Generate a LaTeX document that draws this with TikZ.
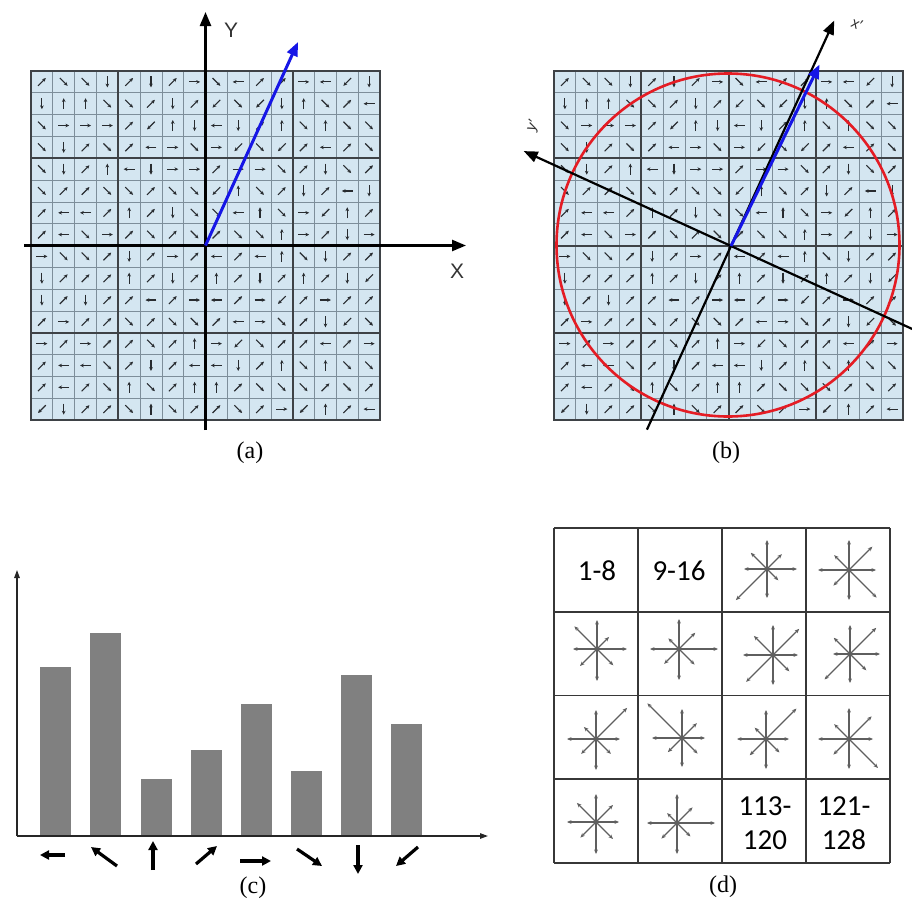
\documentclass[tikz,border=0pt]{standalone}
\usepackage{fontspec}
\setmainfont{Liberation Serif}
\newfontfamily\sansf{Liberation Sans}
\newfontfamily\calib{Carlito}
\usetikzlibrary{arrows.meta}
\definecolor{gridbg}{RGB}{212,230,241}
\definecolor{thinln}{RGB}{125,142,154}
\definecolor{thickln}{RGB}{62,66,70}
\definecolor{arrowc}{RGB}{40,44,48}
\definecolor{bluea}{RGB}{22,22,230}
\definecolor{redc}{RGB}{228,28,36}
\definecolor{barc}{RGB}{128,128,128}
\definecolor{tabln}{RGB}{55,55,55}
\definecolor{armc}{RGB}{95,95,95}

\def\arrowrows{%
{45,-45,-45,270,45,270,45,0,-45,180,45,45,0,180,225,270},%
{270,90,90,-45,-45,45,270,45,225,-45,225,270,90,-45,45,180},%
{-45,0,0,0,45,225,90,270,180,270,45,90,-45,90,-45,-45},%
{-45,270,45,-45,45,180,0,-45,0,225,-45,225,45,180,45,-45},%
{-45,270,45,90,180,270,0,0,45,0,0,-45,45,270,-45,45},%
{-45,45,45,-45,-45,45,-45,-45,225,90,-45,45,270,45,180,270},%
{45,180,180,45,90,45,270,-45,-45,180,90,-45,0,225,90,45},%
{45,180,-45,0,45,-45,45,-45,45,-45,-45,90,0,45,270,0},%
{0,-45,-45,45,270,45,0,45,180,45,180,90,-45,270,45,45},%
{270,45,45,45,90,45,270,45,90,45,270,45,90,45,270,225},%
{270,45,270,45,45,180,45,0,180,45,0,225,45,0,45,45},%
{45,0,45,45,-45,45,-45,-45,45,180,0,-45,45,270,225,-45},%
{0,45,0,45,45,-45,45,90,0,225,-45,45,45,180,45,0},%
{45,180,180,-45,45,270,45,180,180,270,45,90,-45,90,-45,-45},%
{45,180,45,-45,90,-45,45,90,90,45,-45,-45,-45,45,-45,45},%
{225,270,45,45,-45,90,-45,45,45,-45,45,0,225,90,45,180}}

\tikzset{
  garrow/.style={draw=arrowc, line width=1.1pt, -{Stealth[length=3.8pt,width=3.6pt]}},
  thinrule/.style={draw=thinln, line width=0.7pt},
  thickrule/.style={draw=thickln, line width=2pt},
  axisline/.style={draw=black, line width=2.4pt, -{Triangle[length=14pt,width=11pt]}},
  bluevec/.style={draw=bluea, line width=3pt, -{Triangle[length=14pt,width=11pt]}},
  axlabel/.style={font=\sansf\fontsize{21}{21}\selectfont, text=black!80},
  primelabel/.style={font=\sansf\fontsize{15}{15}\selectfont, text=black!80, inner sep=1pt},
  panellabel/.style={font=\fontsize{24}{24}\selectfont},
  histaxis/.style={draw=black!85, line width=1.3pt, -{Triangle[length=8pt,width=5.5pt]}},
  harrow/.style={draw=black, line width=3.2pt, -{Triangle[length=9pt,width=9pt]}},
  stararm/.style={draw=armc, line width=1.1pt, -{Stealth[length=4.5pt,width=3.8pt]}},
  celltext/.style={font=\calib\fontsize{29}{34}\selectfont, align=center},
}

\newcommand\gridpanel[2]{%
 \begin{scope}[shift={(#1,-#2)}]
  \fill[gridbg] (0,0) rectangle (349,-349);
  \foreach \k in {1,...,15} {
    \draw[thinrule] ({\k*21.8125},0) -- ({\k*21.8125},-349);
    \draw[thinrule] (0,{-\k*21.8125}) -- (349,{-\k*21.8125});
  }
  \foreach \k in {4,8,12} {
    \draw[thickrule] ({\k*21.8125},0) -- ({\k*21.8125},-349);
    \draw[thickrule] (0,{-\k*21.8125}) -- (349,{-\k*21.8125});
  }
  \draw[thickln, line width=2.4pt] (0,0) rectangle (349,-349);
  \foreach \row [count=\i] in \arrowrows {
    \foreach \a [count=\j] in \row {
      \draw[garrow] ({(\j-0.5)*21.8125-5.5*cos(\a)},{-(\i-0.5)*21.8125-5.5*sin(\a)}) -- ++({11*cos(\a)},{11*sin(\a)});
    }
  }
 \end{scope}}

\newcommand\pstar[9]{%
  \foreach \ang/\len in {0/#2,45/#3,90/#4,135/#5,180/#6,225/#7,270/#8,315/#9}
    \draw[stararm] (#1) -- ++(\ang:\len);}

\begin{document}
\begin{tikzpicture}[x=1pt,y=1pt]
\useasboundingbox (0,0) rectangle (912,-902);

% ---------- panel (a) ----------
\gridpanel{31}{71}
\coordinate (ao) at (205.5,-245.5);
\coordinate (ayb) at (205.5,-430);
\coordinate (ayt) at (205.5,-12);
\coordinate (axl) at (24,-245.5);
\coordinate (axr) at (466,-245.5);
\coordinate (ablue) at (298,-42);
\draw[axisline] (ayb) -- (ayt);
\draw[axisline] (axl) -- (axr);
\draw[bluevec] (ao) -- (ablue);
\node[axlabel] (ylab) at (231,-30) {Y};
\node[axlabel] (xlab) at (457,-271) {X};
\node[panellabel] (la) at (250,-453) {(a)};

% ---------- panel (b) ----------
\gridpanel{554}{71}
\coordinate (bc) at (728,-245);
\draw[redc, line width=2.6pt] (bc) circle[radius=171.5];
\coordinate (bo) at (731,-246);
\coordinate (bxt) at ([shift={(65.4:248)}]bo);
\coordinate (bxb) at ([shift={(245.4:202)}]bo);
\coordinate (byt) at ([shift={(155.4:228)}]bo);
\coordinate (byb) at ([shift={(-24.6:215)}]bo);
\coordinate (bblue) at ([shift={(64:202)}]bo);
\draw[axisline, line width=2.2pt] (bxb) -- (bxt);
\draw[axisline, line width=2.2pt] (byb) -- (byt);
\draw[bluevec] (bo) -- (bblue);
\node[primelabel, rotate=-25] (xplab) at (857,-24) {x′};
\node[primelabel, rotate=65] (yplab) at (533,-126) {y′};
\node[panellabel] (lb) at (726,-453) {(b)};

% ---------- panel (c) ----------
\coordinate (co) at (17,-836);
\coordinate (cyt) at (17,-570);
\coordinate (cxr) at (488,-836);
\foreach \bx/\bt in {40/667,90/633,141/779,191/750,241/704,291/771,341/675,391/724}
  \fill[barc] (\bx,-836) rectangle ++(31,{836-\bt});
\draw[histaxis] (co) -- (cyt);
\draw[histaxis] (co) -- (cxr);
\foreach \sx/\sy/\ex/\ey [count=\n] in {65/855/40/855, 117/866/91/847, 153/870/153/841, 196/864/217/846, 240/861/271/861, 297/849/322/866, 358/845/358/874, 418/847/396/866} {
  \coordinate (hs\n) at (\sx,-\sy);
  \coordinate (he\n) at (\ex,-\ey);
  \draw[harrow] (hs\n) -- (he\n);
}
\node[panellabel] (lc) at (253,-888) {(c)};

% ---------- panel (d) ----------
\foreach \k in {0,...,4} {
  \draw[tabln, line width=1.6pt] ({554+\k*84},-528) -- ({554+\k*84},-863);
  \draw[tabln, line width=1.6pt] (554,{-528-\k*83.75}) -- (890,{-528-\k*83.75});
}
\node[celltext] (t1) at (597,-571) {1-8};
\node[celltext] (t2) at (679,-571) {9-16};
\node[celltext] (t3) at (765,-823) {113-\\120};
\node[celltext] (t4) at (844,-823) {121-\\128};
\coordinate (s13) at (767,-569);
\coordinate (s14) at (849,-570);
\coordinate (s21) at (597,-649);
\coordinate (s22) at (679,-649);
\coordinate (s23) at (773,-655);
\coordinate (s24) at (850,-654);
\coordinate (s31) at (596,-739);
\coordinate (s32) at (682,-738);
\coordinate (s33) at (766,-739);
\coordinate (s34) at (849,-739);
\coordinate (s41) at (596,-822);
\coordinate (s42) at (677,-823);
\pstar{s13}{30}{21}{29}{23}{23}{44}{29}{16}
\pstar{s14}{27}{33}{30}{21}{31}{22}{30}{39}
\pstar{s21}{30}{17}{29}{32}{24}{24}{32}{23}
\pstar{s22}{39}{23}{30}{15}{29}{21}{31}{22}
\pstar{s23}{25}{37}{30}{27}{30}{38}{30}{23}
\pstar{s24}{30}{37}{29}{23}{17}{36}{29}{23}
\pstar{s31}{24}{44}{29}{17}{29}{21}{31}{21}
\pstar{s32}{23}{21}{29}{49}{30}{20}{29}{22}
\pstar{s33}{23}{43}{29}{16}{29}{23}{30}{19}
\pstar{s34}{24}{32}{31}{21}{31}{22}{30}{41}
\pstar{s41}{23}{24}{28}{27}{29}{22}{32}{24}
\pstar{s42}{38}{22}{29}{14}{30}{22}{31}{19}
\node[panellabel] (ld) at (723,-887) {(d)};
\end{tikzpicture}
\end{document}
